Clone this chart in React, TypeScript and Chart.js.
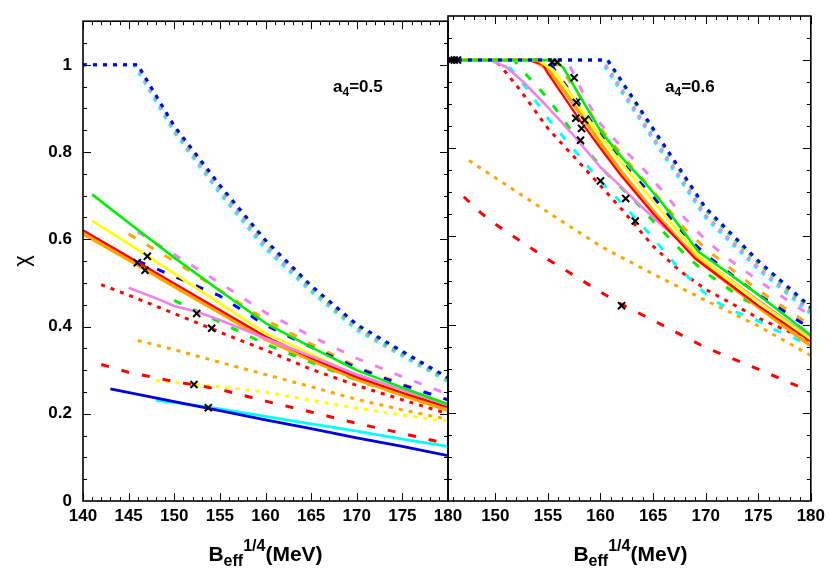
import React, { useEffect, useRef } from 'react';
import { Chart, registerables } from 'chart.js';
Chart.register(...registerables);

type P = [number, number];

// ---------- Left panel (a4 = 0.5) ----------
const leftXTicks = [140, 145, 150, 155, 160, 165, 170, 175, 180];
const leftBlueDot: P[] = [[140, 1], [146, 1], [150, 0.86], [155, 0.724], [160, 0.598], [165, 0.494], [170, 0.405], [175, 0.343], [180, 0.283]];
const leftGreenDot: P[] = [[140, 1], [146, 1], [150, 0.856], [155, 0.72], [160, 0.594], [165, 0.49], [170, 0.401], [175, 0.339], [180, 0.28]];
const leftVioletDot: P[] = [[140, 1], [145.8, 1], [150, 0.85], [155, 0.712], [160, 0.585], [165, 0.485], [170, 0.396], [175, 0.335], [180, 0.277]];
const leftCyanDot: P[] = [[140, 1], [145.6, 1], [150, 0.845], [155, 0.705], [160, 0.578], [165, 0.48], [170, 0.392], [175, 0.332], [180, 0.274]];

const leftGreen: P[] = [[141, 0.703], [145, 0.638], [150, 0.558], [155, 0.482], [160, 0.408], [165, 0.353], [170, 0.3], [175, 0.26], [180, 0.222]];
const leftYellow: P[] = [[141, 0.642], [145, 0.59], [150, 0.522], [155, 0.453], [160, 0.385], [165, 0.337], [170, 0.288], [175, 0.25], [180, 0.215]];
const leftRed: P[] = [[140, 0.621], [145, 0.56], [150, 0.499], [155, 0.438], [160, 0.377], [165, 0.328], [170, 0.284], [175, 0.248], [180, 0.215]];
const leftOrange: P[] = [[140, 0.613], [145, 0.553], [150, 0.492], [155, 0.432], [160, 0.371], [165, 0.323], [170, 0.279], [175, 0.243], [180, 0.208]];
const leftViolet: P[] = [[145, 0.489], [148, 0.465], [150, 0.447], [152.5, 0.434], [155, 0.415], [160, 0.373], [165, 0.332], [170, 0.29], [175, 0.255], [180, 0.22]];
const leftBlue: P[] = [[143, 0.257], [150, 0.228], [155, 0.207], [160, 0.186], [165, 0.166], [170, 0.145], [175, 0.125], [180, 0.104]];
const leftCyan: P[] = [[148, 0.231], [150, 0.226], [155, 0.211], [160, 0.194], [165, 0.177], [170, 0.16], [175, 0.142], [180, 0.125]];

const leftOrangeDash: P[] = [[145, 0.612], [150, 0.55], [155, 0.483], [160, 0.415], [165, 0.36], [170, 0.308], [175, 0.268], [180, 0.232]];
const leftVioletDash: P[] = [[146, 0.617], [150, 0.565], [155, 0.5], [160, 0.432], [165, 0.378], [170, 0.327], [175, 0.285], [180, 0.245]];
const leftBlueDash: P[] = [[146, 0.55], [150, 0.515], [155, 0.47], [160, 0.403], [165, 0.353], [170, 0.305], [175, 0.266], [180, 0.232]];
const leftGreenDash: P[] = [[150, 0.46], [155, 0.41], [160, 0.36], [165, 0.318], [170, 0.277], [175, 0.243], [180, 0.21]];
const leftRedDash: P[] = [[142, 0.313], [145, 0.295], [150, 0.274], [155, 0.256], [160, 0.229], [165, 0.204], [170, 0.178], [175, 0.155], [180, 0.131]];

const leftRedDot: P[] = [[142, 0.496], [145, 0.472], [150, 0.43], [155, 0.387], [160, 0.346], [165, 0.302], [170, 0.265], [175, 0.232], [180, 0.2]];
const leftOrangeDot: P[] = [[146, 0.368], [150, 0.347], [155, 0.318], [160, 0.29], [165, 0.262], [170, 0.233], [175, 0.209], [180, 0.187]];
const leftYellowDot: P[] = [[148, 0.276], [150, 0.272], [155, 0.262], [160, 0.25], [165, 0.231], [170, 0.213], [175, 0.197], [180, 0.183]];

const leftMarks: P[] = [[145.95, 0.546], [147.05, 0.561], [146.8, 0.529], [152.46, 0.43], [154.1, 0.396], [152.16, 0.267], [153.73, 0.214]];

// ---------- Right panel (a4 = 0.6) ----------
const rightXTicks = [150, 155, 160, 165, 170, 175, 180];
const rightBlueDot: P[] = [[145.5, 1], [160.7, 1], [165, 0.845], [170, 0.665], [175, 0.545], [180, 0.44]];
const rightGreenDot: P[] = [[145.5, 1], [160.6, 1], [165, 0.84], [170, 0.66], [175, 0.54], [180, 0.436]];
const rightVioletDot: P[] = [[145.5, 1], [160.2, 1], [165, 0.826], [170, 0.648], [175, 0.53], [180, 0.43]];
const rightCyanDot: P[] = [[145.5, 1], [160, 1], [165, 0.82], [170, 0.642], [175, 0.525], [180, 0.425]];

const rightRed: P[] = [[145.5, 1], [153.2, 1], [154.5, 0.99], [155, 0.97], [157, 0.9], [158, 0.865], [160, 0.8], [162, 0.737], [165, 0.652], [169, 0.55], [175, 0.443], [180, 0.362]];
const rightOrange: P[] = [[145.5, 1], [153.6, 1], [155, 0.98], [157, 0.915], [160, 0.812], [162, 0.746], [165, 0.658], [169, 0.552], [175, 0.44], [180, 0.352]];
const rightYellow: P[] = [[145.5, 1], [154, 1], [155.5, 0.978], [157, 0.93], [160, 0.826], [162.5, 0.752], [165, 0.68], [169.3, 0.556], [175, 0.452], [180, 0.367]];
const rightGreen: P[] = [[145.5, 1], [155.6, 1], [156.5, 0.982], [158, 0.92], [160, 0.84], [162, 0.78], [164, 0.728], [166, 0.672], [169.3, 0.566], [175, 0.468], [180, 0.376]];
const rightViolet: P[] = [[145.5, 1], [149.5, 1], [151, 0.985], [152.6, 0.952], [155, 0.893], [157.3, 0.833], [160, 0.757], [162, 0.712], [164, 0.665], [166, 0.622], [169, 0.56], [175, 0.455], [180, 0.37]];

const rightCyanDash: P[] = [[145.5, 1], [150.3, 1], [151.5, 0.98], [153, 0.935], [155, 0.868], [157.2, 0.805], [160, 0.725], [161.6, 0.686], [164.6, 0.608], [167.4, 0.529], [170.5, 0.459], [172.5, 0.432], [174.5, 0.415], [176.5, 0.389], [178.4, 0.37], [180, 0.352]];
const rightGreenDash: P[] = [[145.5, 1], [151.8, 1], [152.3, 0.984], [155, 0.913], [157.6, 0.828], [160.5, 0.745], [163.3, 0.68], [165, 0.635], [168.2, 0.555], [170, 0.518], [173.4, 0.461], [175, 0.44], [178.7, 0.385], [180, 0.37]];
const rightBlueDash: P[] = [[145.5, 1], [155, 1], [156.1, 0.962], [158, 0.9], [160, 0.83], [162.5, 0.756], [165, 0.69], [168, 0.605], [170, 0.559], [172.5, 0.513], [175, 0.468], [177.5, 0.43], [180, 0.39]];
const rightOrangeDash: P[] = [[145.5, 1], [155.5, 1], [157, 0.955], [160, 0.845], [162.5, 0.772], [165, 0.703], [168, 0.618], [170, 0.572], [175, 0.478], [180, 0.398]];
const rightVioletDash: P[] = [[145.5, 1], [156.8, 1], [158.8, 0.904], [160, 0.855], [162, 0.803], [164.4, 0.745], [166, 0.7], [168, 0.642], [170, 0.592], [172, 0.552], [175, 0.5], [177.5, 0.46], [180, 0.42]];
const rightRedDash: P[] = [[147, 0.69], [148.6, 0.654], [150, 0.628], [152, 0.596], [155, 0.548], [158, 0.504], [160, 0.474], [162, 0.446], [165, 0.41], [170, 0.348], [175, 0.299], [180, 0.248]];

const rightRedDot: P[] = [[145.5, 1], [149.5, 1], [150.4, 0.99], [152.3, 0.934], [155, 0.845], [157.7, 0.775], [160, 0.715], [162.2, 0.657], [165, 0.578], [167.6, 0.521], [170, 0.48], [175, 0.415], [180, 0.362]];
const rightOrangeDot: P[] = [[147.5, 0.772], [150, 0.733], [155, 0.655], [160, 0.578], [165, 0.515], [170, 0.455], [175, 0.397], [180, 0.33]];

const rightMarks: P[] = [[145.8, 1], [146.1, 1], [146.4, 1], [155.4, 0.995], [155.9, 0.995], [157.5, 0.96], [157.7, 0.904], [157.65, 0.868], [158.5, 0.864], [158.2, 0.845], [158.1, 0.818], [160.0, 0.726], [162.4, 0.686], [163.3, 0.635], [162.0, 0.443]];

const yTicks = [0, 0.2, 0.4, 0.6, 0.8, 1];

const FONT = '"Liberation Sans", Arial, Helvetica, sans-serif';
const GREEN = '#00ee00';
const YELLOW = '#ffff00';
const RED = '#ff0000';
const ORANGE = '#ffa500';
const VIOLET = '#ee82ee';
const BLUE = '#0000ff';
const CYAN = '#00ffff';

type Kind = 'solid' | 'dash' | 'dot';
const toXY = (d: P[]) => d.map(([x, y]) => ({ x, y }));
function ds(data: P[], color: string, kind: Kind, width = 2.7): any {
  return {
    data: toXY(data),
    borderColor: color,
    backgroundColor: color,
    borderWidth: width,
    borderDash: kind === 'dash' ? [8, 13] : kind === 'dot' ? [4, 6] : [],
    borderCapStyle: 'butt',
    borderJoinStyle: 'round',
    pointRadius: 0,
    fill: false,
    tension: 0,
  };
}
function marks(data: P[]): any {
  return {
    data: toXY(data),
    showLine: false,
    pointStyle: 'crossRot',
    pointRadius: 5,
    borderWidth: 2,
    borderColor: '#000',
    backgroundColor: '#000',
  };
}

function framePlugin(label: string, titleCx: number, labelX: number, withChi: boolean): any {
  return {
    id: 'frame' + label.replace('.', ''),
    afterDatasetsDraw(chart: any) {
      const { ctx, chartArea: a, scales } = chart;
      const x = scales.x, y = scales.y;
      ctx.save();
      ctx.strokeStyle = '#000';
      ctx.lineWidth = 1;
      ctx.beginPath();
      for (let v = Math.ceil(x.min); v <= x.max; v += 1) {
        const px = Math.round(x.getPixelForValue(v)) + 0.5;
        const len = v % 5 === 0 ? 8 : 4;
        ctx.moveTo(px, a.bottom); ctx.lineTo(px, a.bottom - len);
        ctx.moveTo(px, a.top); ctx.lineTo(px, a.top + len);
      }
      for (let i = 1; i < 22; i++) {
        const py = Math.round(y.getPixelForValue(i * 0.05)) + 0.5;
        const len = i % 4 === 0 ? 8 : 4;
        ctx.moveTo(a.left, py); ctx.lineTo(a.left + len, py);
        ctx.moveTo(a.right, py); ctx.lineTo(a.right - len, py);
      }
      ctx.stroke();
      ctx.lineWidth = 1.6;
      ctx.strokeRect(a.left, a.top, a.right - a.left, a.bottom - a.top);

      // panel label a4=...
      ctx.fillStyle = '#000';
      ctx.textBaseline = 'alphabetic';
      ctx.textAlign = 'left';
      let tx = labelX;
      const by = 92;
      ctx.font = `bold 17px ${FONT}`;
      ctx.fillText('a', tx, by); tx += ctx.measureText('a').width;
      ctx.font = `bold 12px ${FONT}`;
      ctx.fillText('4', tx, by + 4); tx += ctx.measureText('4').width;
      ctx.font = `bold 17px ${FONT}`;
      ctx.fillText('=' + label, tx, by);

      // x-axis title
      const big = `bold 21px ${FONT}`, small = `bold 16px ${FONT}`;
      ctx.font = big;
      const wB = ctx.measureText('B').width, wM = ctx.measureText('(MeV)').width;
      ctx.font = small;
      const wE = ctx.measureText('eff').width, wQ = ctx.measureText('1/4').width;
      let sx = titleCx - (wB + wE + wQ + wM) / 2;
      const tb = 561;
      ctx.font = big; ctx.fillText('B', sx, tb); sx += wB;
      ctx.font = small; ctx.fillText('eff', sx, tb + 5); sx += wE;
      ctx.fillText('1/4', sx, tb - 10); sx += wQ;
      ctx.font = big; ctx.fillText('(MeV)', sx, tb);

      if (withChi) {
        ctx.save();
        ctx.translate(23, 261);
        ctx.rotate(-Math.PI / 2);
        ctx.font = `22px ${FONT}`;
        ctx.textAlign = 'center';
        ctx.textBaseline = 'middle';
        ctx.fillText('χ', 0, 0);
        ctx.restore();
      }
      ctx.restore();
    },
  };
}

function makeOptions(xmin: number, xTicks: number[], padLeft: number, padRight: number, showY: boolean): any {
  const tickFont = { family: FONT, size: 17, weight: 'bold' as const };
  return {
    animation: false,
    responsive: false,
    maintainAspectRatio: false,
    events: [],
    layout: { padding: { left: padLeft, right: padRight, top: 16, bottom: 0 } },
    plugins: { legend: { display: false }, tooltip: { enabled: false } },
    scales: {
      x: {
        type: 'linear',
        min: xmin,
        max: 180,
        afterBuildTicks: (s: any) => { s.ticks = xTicks.map((v) => ({ value: v })); },
        ticks: { font: tickFont, color: '#000', padding: 5, maxRotation: 0, autoSkip: false, includeBounds: false, callback: (v: any) => String(v) },
        grid: { display: false, drawTicks: false },
        border: { display: false },
        afterFit: (s: any) => { s.height = 80; },
      },
      y: {
        type: 'linear',
        display: showY,
        min: 0,
        max: 1.1,
        afterBuildTicks: (s: any) => { s.ticks = yTicks.map((v) => ({ value: v })); },
        ticks: { font: tickFont, color: '#000', padding: 11, includeBounds: false, callback: (v: any) => String(Math.round(Number(v) * 100) / 100) },
        grid: { display: false, drawTicks: false },
        border: { display: false },
        afterFit: (s: any) => { s.width = showY ? 83 : 0; },
      },
    },
  };
}

export default function App() {
  const leftRef = useRef<HTMLCanvasElement>(null);
  const rightRef = useRef<HTMLCanvasElement>(null);

  useEffect(() => {
    Chart.defaults.font.family = FONT;
    const left = new Chart(leftRef.current as HTMLCanvasElement, {
      type: 'line',
      data: {
        datasets: [
          marks(leftMarks),
          ds(leftBlueDot, BLUE, 'dot', 3),
          ds(leftGreenDot, GREEN, 'dot', 3),
          ds(leftVioletDot, VIOLET, 'dot', 3),
          ds(leftCyanDot, CYAN, 'dot', 3),
          ds(leftBlue, '#0000dd', 'solid', 2.8),
          ds(leftCyan, CYAN, 'solid', 2.8),
          ds(leftGreen, GREEN, 'solid', 2.6),
          ds(leftViolet, VIOLET, 'solid', 2.6),
          ds(leftRed, RED, 'solid', 2.2),
          ds(leftOrange, ORANGE, 'solid', 3.6),
          ds(leftYellow, YELLOW, 'solid', 2.6),
          ds(leftBlueDash, BLUE, 'dash', 3),
          ds(leftGreenDash, GREEN, 'dash', 3),
          ds(leftVioletDash, VIOLET, 'dash', 3),
          ds(leftOrangeDash, ORANGE, 'dash', 3),
          ds(leftRedDash, RED, 'dash', 3),
          ds(leftRedDot, RED, 'dot', 3),
          ds(leftOrangeDot, ORANGE, 'dot', 3),
          ds(leftYellowDot, YELLOW, 'dot', 3),
        ],
      },
      options: makeOptions(140, leftXTicks, 0, 830 - 448, true),
      plugins: [framePlugin('0.5', 265.5, 333, true)],
    });
    const right = new Chart(rightRef.current as HTMLCanvasElement, {
      type: 'line',
      data: {
        datasets: [
          marks(rightMarks),
          ds(rightBlueDot, BLUE, 'dot', 3),
          ds(rightGreenDot, GREEN, 'dot', 3),
          ds(rightVioletDot, VIOLET, 'dot', 3),
          ds(rightCyanDot, CYAN, 'dot', 3),
          ds(rightGreen, GREEN, 'solid', 2.6),
          ds(rightYellow, YELLOW, 'solid', 2.6),
          ds(rightRed, RED, 'solid', 2.2),
          ds(rightOrange, ORANGE, 'solid', 3.6),
          ds(rightViolet, VIOLET, 'solid', 2.6),
          ds(rightBlueDash, BLUE, 'dash', 3),
          ds(rightOrangeDash, ORANGE, 'dash', 3),
          ds(rightVioletDash, VIOLET, 'dash', 3),
          ds(rightGreenDash, GREEN, 'dash', 3),
          ds(rightCyanDash, CYAN, 'dash', 3),
          ds(rightRedDash, RED, 'dash', 3),
          ds(rightRedDot, RED, 'dot', 3),
          ds(rightOrangeDot, ORANGE, 'dot', 3),
        ],
      },
      options: makeOptions(145.5, rightXTicks, 448, 830 - 813, false),
      plugins: [framePlugin('0.6', 630.5, 665, false)],
    });
    return () => { left.destroy(); right.destroy(); };
  }, []);

  const cs: React.CSSProperties = { position: 'absolute', left: 0, top: 0, width: 830, height: 581 };
  return (
    <div style={{ position: 'fixed', left: 0, top: 0, width: 830, height: 581, background: '#fff' }}>
      <canvas ref={leftRef} width={830} height={581} style={cs} />
      <canvas ref={rightRef} width={830} height={581} style={cs} />
    </div>
  );
}
